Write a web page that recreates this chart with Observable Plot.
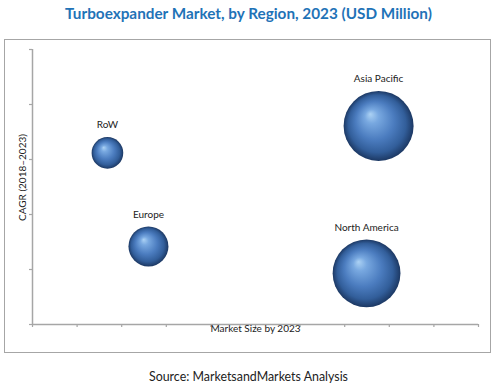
<!DOCTYPE html>
<html>
<head>
<meta charset="utf-8">
<script src="https://cdn.jsdelivr.net/npm/d3@7"></script>
<script src="https://cdn.jsdelivr.net/npm/@observablehq/plot@0.6"></script>
<style>
  html, body { margin: 0; padding: 0; background: #fff; }
  body { width: 497px; height: 389px; position: relative; overflow: hidden; font-family: Lato, "Open Sans", sans-serif; }
  #title { position: absolute; left: 0; top: 4px; width: 497px; text-align: center; font-weight: bold; font-size: 15.3px; color: #1f73b7; }
  #box { position: absolute; left: 4px; top: 39px; width: 487px; height: 314px; box-sizing: border-box; border: 1px solid #a6a6a6; }
  #box svg { display: block; }
  #source { position: absolute; left: 0; top: 369px; width: 497px; text-align: center; font-size: 12.4px; color: #222; }
</style>
</head>
<body>
<div id="title">Turboexpander Market, by Region, 2023 (USD Million)</div>
<div id="box"></div>
<div id="source">Source: MarketsandMarkets Analysis</div>
<script>
// Data (unitless axes)
const regions = ["RoW", "Europe", "Asia Pacific", "North America"];
const marketSize = [1.68, 2.6, 7.76, 7.49];   // x: Market Size by 2023
const cagr = [3.12, 1.42, 3.61, 0.93];        // y: CAGR (2018–2023)
const bubbleSize = [250, 400, 1225, 1150];    // bubble area
const xTicks = [0, 1, 2, 3, 4, 5, 6, 7, 8, 9, 10];
const yTicks = [0, 1, 2, 3, 4, 5];

const data = regions.map((r, i) => ({region: r, x: marketSize[i], y: cagr[i], s: bubbleSize[i]}));
const rMax = 35;
const rScale = d3.scaleSqrt().domain([0, d3.max(bubbleSize)]).range([0, rMax]);

const defs = () => {
  const svgns = "http://www.w3.org/2000/svg";
  const d = document.createElementNS(svgns, "defs");
  d.innerHTML = `<radialGradient id="sphere" cx="0.5" cy="0.5" r="0.5" fx="0.38" fy="0.33">
    <stop offset="0" stop-color="#acd2f4"/>
    <stop offset="0.2" stop-color="#78a8e0"/>
    <stop offset="0.55" stop-color="#4b7cbf"/>
    <stop offset="0.82" stop-color="#325e9a"/>
    <stop offset="1" stop-color="#1c3863"/>
  </radialGradient>`;
  return d;
};

const gray = "#a6a6a6";
const plot = Plot.plot({
  width: 485,
  height: 312,
  marginLeft: 27,
  marginRight: 12,
  marginTop: 9,
  marginBottom: 28,
  style: {fontFamily: "Lato, 'Open Sans', sans-serif", fontSize: "10px", color: "#222", background: "#fff"},
  x: {domain: [0, 10], axis: null},
  y: {domain: [0, 5], axis: null},
  r: {domain: [0, d3.max(bubbleSize)], range: [0, rMax]},
  marks: [
    defs,
    Plot.axisX({ticks: xTicks, tickFormat: () => "", tickSize: 3, stroke: gray, strokeWidth: 1.2, label: null}),
    Plot.axisY({ticks: yTicks, tickFormat: () => "", tickSize: 3, stroke: gray, strokeWidth: 1.2, label: null}),
    Plot.ruleY([0], {stroke: gray, strokeWidth: 1.5}),
    Plot.ruleX([0], {stroke: gray, strokeWidth: 1.5}),
    Plot.dot(data, {x: "x", y: "y", r: "s", fill: "url(#sphere)", stroke: "none"}),
    ...data.map(d => Plot.text([d], {x: "x", y: "y", text: "region", dy: -rScale(d.s) - 12, fill: "#222", fontSize: 10})),
    Plot.text(["Market Size by 2023"], {frameAnchor: "bottom", dy: 7, fill: "#222", fontSize: 10}),
    Plot.text(["CAGR (2018\u20132023)"], {frameAnchor: "left", dx: -10, dy: 34, rotate: -90, fill: "#222", fontSize: 10})
  ]
});
document.getElementById("box").appendChild(plot);
</script>
</body>
</html>
